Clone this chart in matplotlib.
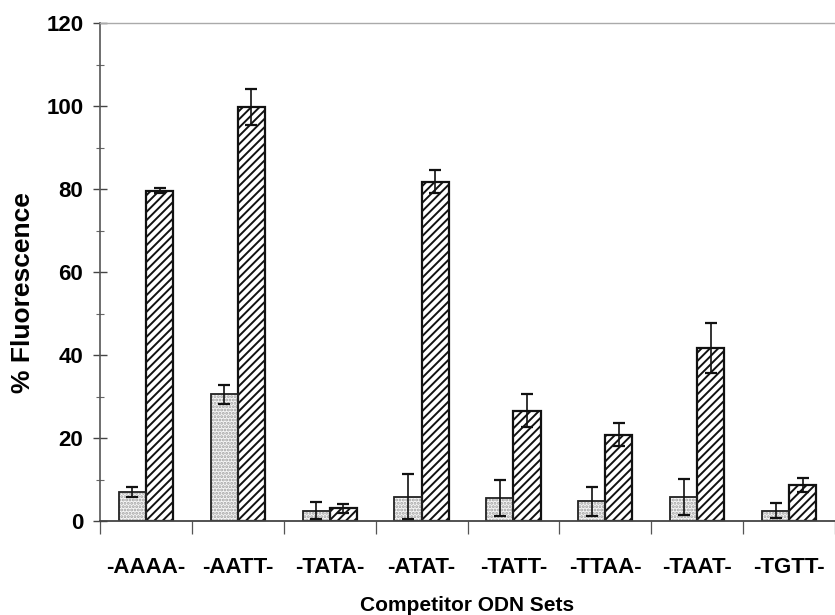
import matplotlib
matplotlib.use("Agg")
import matplotlib.pyplot as plt
import numpy as np
from matplotlib.ticker import MultipleLocator

categories = ["-AAAA-", "-AATT-", "-TATA-", "-ATAT-", "-TATT-", "-TTAA-", "-TAAT-", "-TGTT-"]
dotted_vals = [7.0, 30.5, 2.5, 5.9, 5.5, 4.8, 5.8, 2.5]
dotted_err = [1.1, 2.3, 2.1, 5.4, 4.4, 3.5, 4.3, 1.8]
hatched_vals = [79.6, 99.8, 3.1, 81.8, 26.6, 20.8, 41.7, 8.7]
hatched_err = [0.6, 4.3, 1.1, 2.8, 4.0, 2.7, 6.1, 1.7]
yticks = [0, 20, 40, 60, 80, 100, 120]

plt.rcParams["font.family"] = ["Liberation Sans", "DejaVu Sans"]
plt.rcParams["hatch.linewidth"] = 1.4

fig = plt.figure(figsize=(8.35, 6.15), dpi=100)
ax = fig.add_axes([0.1198, 0.1528, 0.8802, 0.8098])

x = np.arange(len(categories)) + 0.5
w = 0.295
# stippled bars: gray dots fill, then black outline
ax.bar(x - w / 2, dotted_vals, width=w, facecolor="#f6f6f6", edgecolor="#a0a0a0",
       hatch=".....", linewidth=0, zorder=2)
ax.bar(x - w / 2, dotted_vals, width=w, facecolor="none", edgecolor="#222222",
       linewidth=1.3, zorder=2.1)
ax.bar(x + w / 2, hatched_vals, width=w, facecolor="white", edgecolor="#111111",
       hatch="////", linewidth=1.6, zorder=2)
ax.errorbar(x - w / 2, dotted_vals, yerr=dotted_err, fmt="none", ecolor="#111111",
            elinewidth=1.2, capsize=4, capthick=1.6, zorder=3)
ax.errorbar(x + w / 2, hatched_vals, yerr=hatched_err, fmt="none", ecolor="#111111",
            elinewidth=1.2, capsize=4, capthick=1.6, zorder=3)

ax.set_xlim(0, len(categories))
ax.set_ylim(0, 120)
ax.set_yticks(yticks)
ax.yaxis.set_minor_locator(MultipleLocator(10))
ax.tick_params(axis="y", which="major", direction="inout", length=10, width=1.0,
               colors="#444444", labelcolor="black", labelsize=16, pad=7)
ax.tick_params(axis="y", which="minor", direction="inout", length=6, width=0.8, colors="#666666")
for lab in ax.get_yticklabels():
    lab.set_fontweight("bold")

ax.set_xticks(np.arange(len(categories) + 1))
ax.set_xticklabels([])
ax.set_xticks(x, minor=True)
ax.set_xticklabels(categories, minor=True, fontsize=16, fontweight="bold")
ax.tick_params(axis="x", which="major", direction="out", length=9, width=0.9, colors="#555555")
ax.tick_params(axis="x", which="minor", length=0, pad=26, labelcolor="black")

ax.spines["top"].set_color("#aaaaaa")
ax.spines["top"].set_linestyle((0, (2, 1)))
ax.spines["top"].set_linewidth(1.0)
ax.spines["right"].set_visible(False)
ax.spines["left"].set_color("#555555")
ax.spines["left"].set_linewidth(1.2)
ax.spines["bottom"].set_color("#444444")
ax.spines["bottom"].set_linewidth(1.3)

ax.set_ylabel("% Fluorescence", fontsize=19, fontweight="bold")
ax.yaxis.set_label_coords(-0.088, 0.458)
ax.set_xlabel("Competitor ODN Sets", fontsize=15, fontweight="bold")
ax.xaxis.set_label_coords(0.5, -0.15)

fig.savefig("out.png", dpi=100)
